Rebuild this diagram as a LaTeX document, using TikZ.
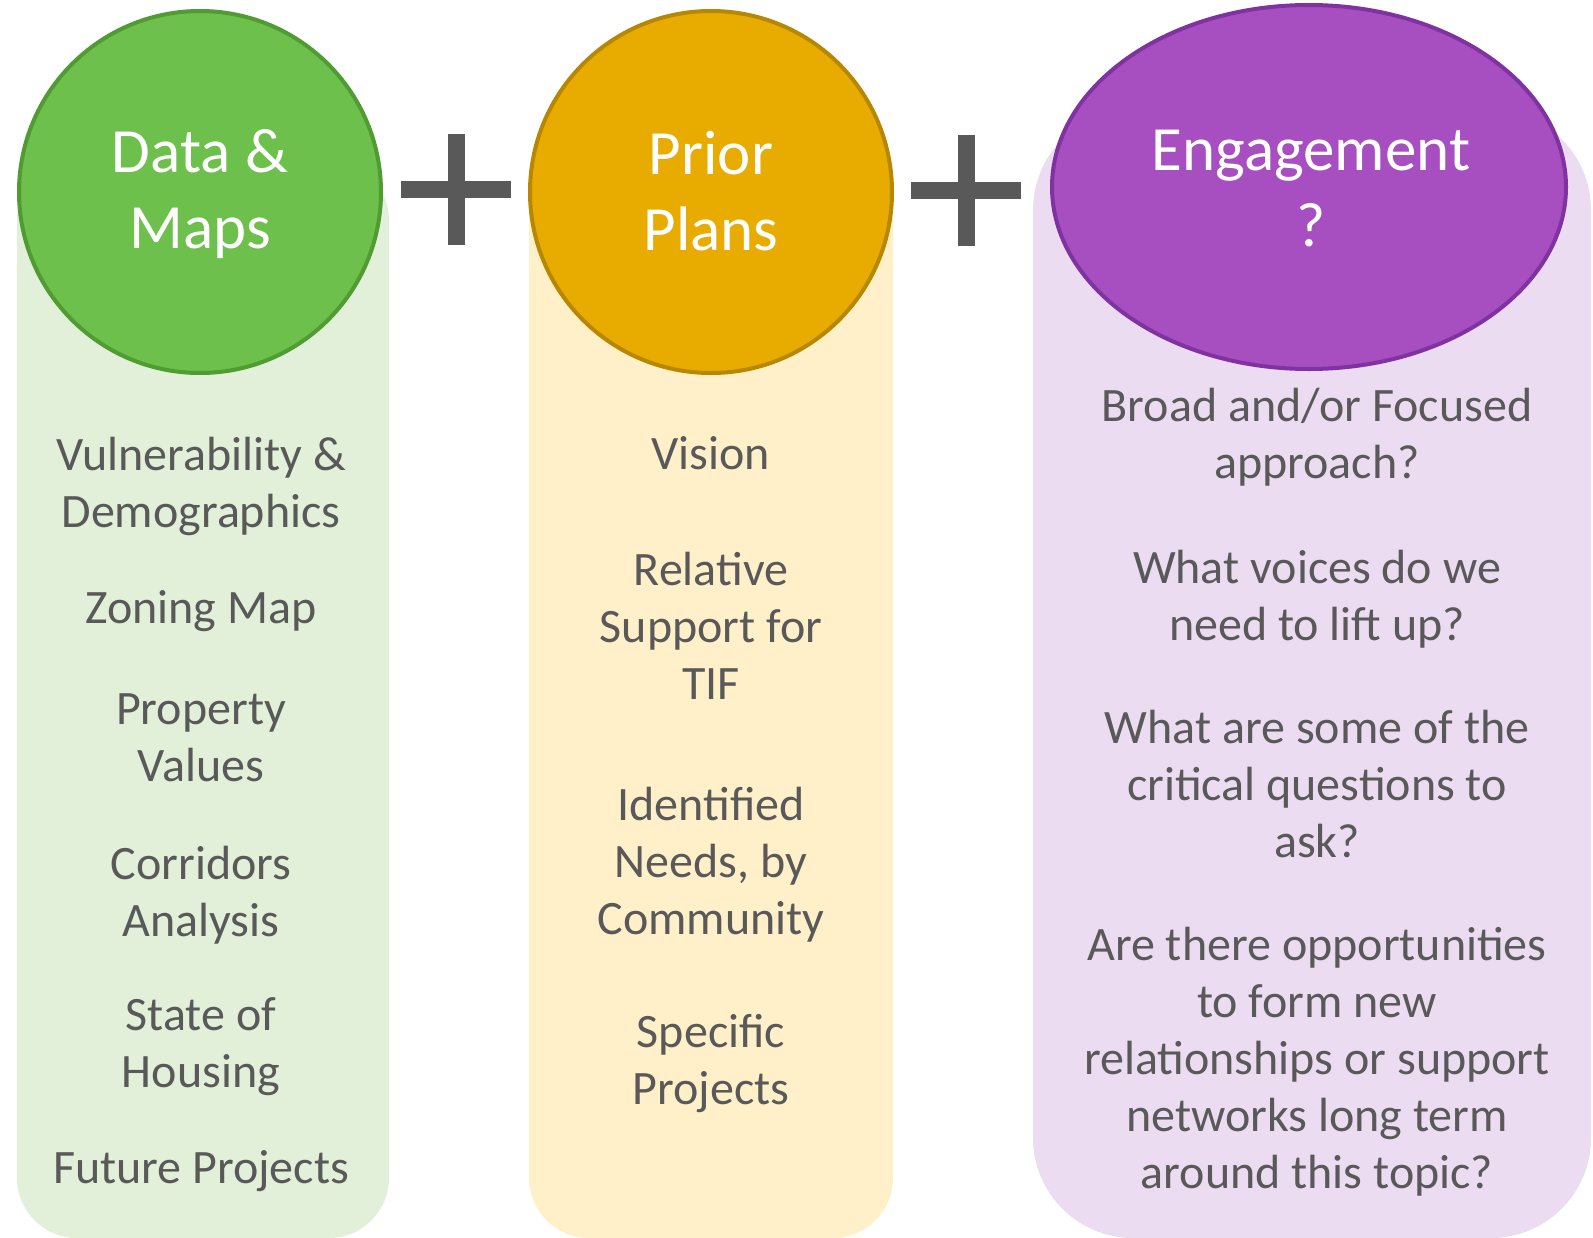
\documentclass[tikz,border=0pt]{standalone}
\usepackage{fontspec}
\setmainfont{Carlito}
\usetikzlibrary{shapes.geometric}

\definecolor{txtgray}{HTML}{595959}
\definecolor{greenfill}{HTML}{6DC04B}
\definecolor{greenedge}{HTML}{519B33}
\definecolor{greenpale}{HTML}{E2F0D9}
\definecolor{goldfill}{HTML}{E8AB00}
\definecolor{goldedge}{HTML}{B78700}
\definecolor{goldpale}{HTML}{FFF0C9}
\definecolor{purplefill}{HTML}{A74FC1}
\definecolor{purpleedge}{HTML}{7F32A0}
\definecolor{purplepale}{HTML}{ECDCF2}

\begin{document}
\begin{tikzpicture}[x=1pt, y=-1pt,
	title/.style={text=white, align=center, font=\fontsize{63}{76}\selectfont, anchor=base},
	item/.style={text=txtgray, align=center, font=\fontsize{48}{57}\selectfont, anchor=base},
	plusbar/.style={draw=txtgray, line width=17pt}]
	\useasboundingbox (0, 0) rectangle (1593, 1237);

	% columns
	\fill[greenpale, rounded corners=60pt]   (17, 160)   rectangle (389, 1238);
	\fill[goldpale, rounded corners=60pt]    (529, 160)  rectangle (893, 1238);
	\fill[purplepale, rounded corners=100pt] (1033, 110) rectangle (1591, 1238);

	% heads
	\node[shape=circle, draw=greenedge, fill=greenfill, line width=4pt, minimum size=362pt, inner sep=0pt] (data) at (200, 192) {};
	\node[shape=circle, draw=goldedge, fill=goldfill, line width=4pt, minimum size=362pt, inner sep=0pt] (prior) at (711, 192) {};
	\node[shape=ellipse, draw=purpleedge, fill=purplefill, line width=4pt, minimum width=514pt, minimum height=364pt, inner sep=0pt] (engage) at (1309, 187) {};

	% base = last line
	\node[title] (datatxt)   at (200, 248)  {Data \&\\Maps};
	\node[title] (priortxt)  at (711, 250)  {Prior\\Plans};
	\node[title] (engagetxt) at (1311, 246) {Engagement\\?};

	% plus signs
	\foreach \cx/\cy in {456/189, 966/190} {
		\draw[plusbar] (\cx-55, \cy) -- (\cx+55, \cy);
		\draw[plusbar] (\cx, \cy-55) -- (\cx, \cy+56);
	}

	% data & maps
	\node[item] (vuln)     at (201, 527)  {Vulnerability \&\\Demographics};
	\node[item] (zoning)   at (201, 623)  {Zoning Map};
	\node[item] (property) at (201, 781)  {Property\\Values};
	\node[item] (corridor) at (201, 936)  {Corridors\\Analysis};
	\node[item] (housing)  at (201, 1087) {State of\\Housing};
	\node[item] (future)   at (201, 1183) {Future Projects};

	% prior plans
	\node[item] (vision)   at (711, 469)  {Vision};
	\node[item] (tif)      at (711, 699)  {Relative\\Support for\\TIF};
	\node[item] (needs)    at (711, 934)  {Identified\\Needs, by\\Community};
	\node[item] (specific) at (711, 1104) {Specific\\Projects};

	% engagement
	\node[item] (broad)    at (1317, 478)  {Broad and/or Focused\\approach?};
	\node[item] (voices)   at (1317, 640)  {What voices do we\\need to lift up?};
	\node[item] (critical) at (1317, 857)  {What are some of the\\critical questions to\\ask?};
	\node[item] (network)  at (1317, 1188) {Are there opportunities\\to form new\\relationships or support\\networks long term\\around this topic?};
\end{tikzpicture}
\end{document}
